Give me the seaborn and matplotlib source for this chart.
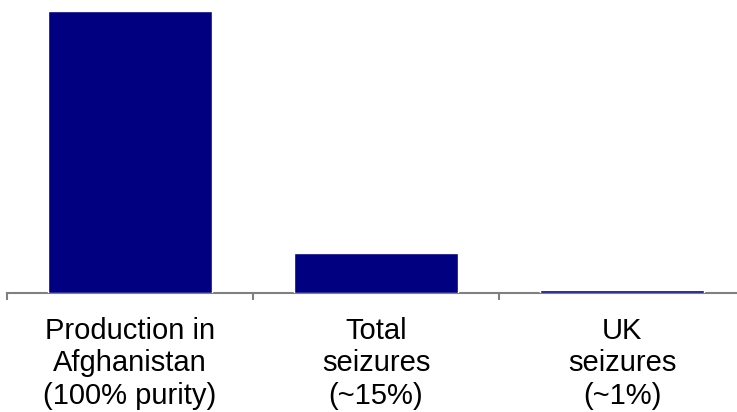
import matplotlib
matplotlib.use("Agg")
import matplotlib.pyplot as plt
import seaborn as sns

categories = ["Production in\nAfghanistan\n(100% purity)", "Total\nseizures\n(~15%)", "UK\nseizures\n(~1%)"]
values = [100, 14.2, 1.0]

sns.set_theme(style="white")
plt.rcParams["font.family"] = ["Liberation Sans", "DejaVu Sans"]

fig = plt.figure(figsize=(7.37, 4.12), dpi=100)
ax = fig.add_axes([7 / 737, 119 / 412, 738 / 737, 282 / 412])

sns.barplot(x=categories, y=values, color="#000080", saturation=1, width=0.67, ax=ax, zorder=3)

ax.set_xlim(-0.5, 2.5)
ax.set_ylim(0, 100)
ax.set_yticks([])
ax.set_ylabel("")
ax.set_xlabel("")
for s in ["top", "right", "left"]:
    ax.spines[s].set_visible(False)
ax.spines["bottom"].set_color("#808080")
ax.spines["bottom"].set_linewidth(1.5)

ax.set_xticks([-0.5, 0.5, 1.5, 2.5], minor=True)
ax.tick_params(axis="x", which="minor", bottom=True, length=5, width=1.5, color="#808080", direction="out")
ax.tick_params(axis="x", which="major", length=0, pad=17, labelsize=21, labelcolor="black")
for lbl in ax.get_xticklabels():
    lbl.set_linespacing(1.22)

fig.savefig("out.png", dpi=100)
